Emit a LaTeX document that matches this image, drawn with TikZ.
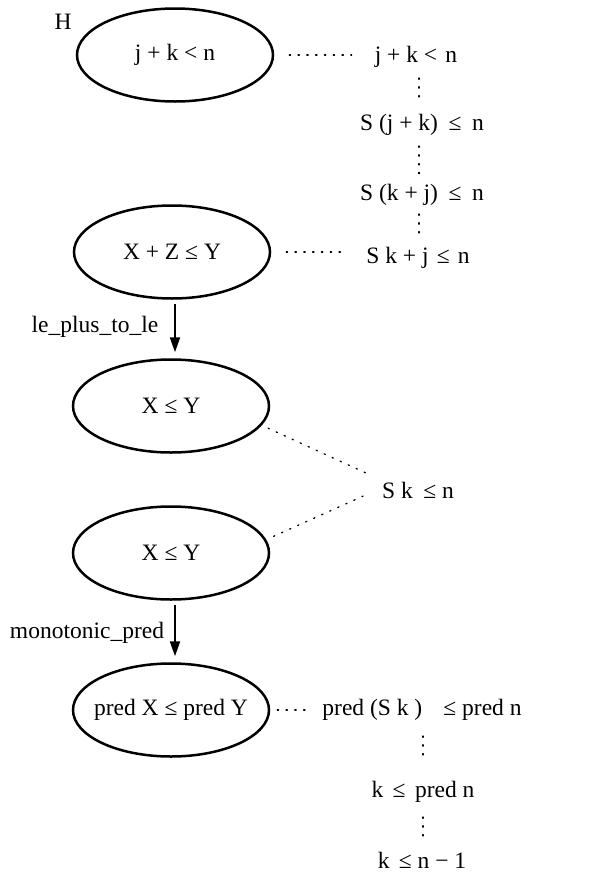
\documentclass[tikz,border=0pt]{standalone}
\usepackage{fontspec}
\setmainfont{Liberation Serif}
\usetikzlibrary{shapes.geometric,arrows.meta}
\begin{document}
\begin{tikzpicture}[x=1pt,y=-1pt,
  every node/.style={font=\fontsize{23.5}{27}\selectfont},
  goal/.style={ellipse,draw,line width=2.5pt,minimum width=196pt,minimum height=93pt,inner sep=0pt},
  txt/.style={inner sep=0pt},
  dotline/.style={line width=1.3pt,dash pattern=on 1.3pt off 7.5pt,line cap=round},
  rule/.style={line width=2pt,shorten <=4pt,shorten >=6pt,-{Triangle[length=15pt,width=10pt]}}]
\useasboundingbox (0,0) rectangle (606,873);
% goals
\node[goal] (e1) at (175,55) {j + k < n};
\node[goal] (e2) at (172,252) {X + Z ≤ Y};
\node[goal] (e3) at (171,406) {X ≤ Y};
\node[goal] (e4) at (171,553) {X ≤ Y};
\node[goal,inner xsep=-8pt] (e5) at (171,710) {pred X ≤ pred Y};
\node[txt] (h) at (63,22) {H};
% rules
\coordinate (ar) at (175,0);
\draw[rule] (ar |- e2.south) -- (ar |- e3.north);
\draw[rule] (ar |- e4.south) -- (ar |- e5.north);
\node[txt] (l1) at (95,327) {le\_plus\_to\_le};
\node[txt] (l2) at (87,633) {monotonic\_pred};
% right column
\node[txt] (t1) at (416,57) {j + k <\hspace{0.35em}n};
\node[txt] (t2) at (422,125) {S (j + k)\hspace{0.45em}≤\hspace{0.45em}n};
\node[txt] (t3) at (422,195) {S (k + j)\hspace{0.45em}≤\hspace{0.45em}n};
\node[txt] (t4) at (418,258) {S k + j\hspace{0.35em}≤\hspace{0.35em}n};
\node[txt] (t5) at (418,490) {S k\hspace{0.45em}≤ n};
\node[txt] (t6) at (422,710) {pred (S k )\hspace{0.9em}≤ pred n};
\node[txt] (t7) at (423,792) {k\hspace{0.4em}≤\hspace{0.4em}pred n};
\node[txt] (t8) at (422,860) {k\hspace{0.4em}≤ n − 1};
\coordinate (ca) at (419,0);
\coordinate (cb) at (423,0);
\coordinate (c5) at (390,484);
% dotted links
\draw[dotline,shorten <=15pt,shorten >=23pt] (e1.east) -- (e1.east -| t1.west);
\draw[dotline,shorten <=15pt,shorten >=21pt] (e2.east) -- (e2.east -| t4.west);
\draw[dotline,shorten <=21pt,shorten >=21pt] (ca |- t1) -- (ca |- t2);
\draw[dotline,shorten <=21pt,shorten >=21pt] (ca |- t2) -- (ca |- t3);
\draw[dotline,shorten <=19pt,shorten >=22pt] (ca |- t3) -- (ca |- t4);
\draw[dotline,shorten <=7pt,shorten >=26pt] (e3.-12) -- (c5);
\draw[dotline,shorten <=8pt,shorten >=24pt] (e4.8) -- (c5);
\draw[dotline,shorten <=7pt,shorten >=12pt] (e5.east) -- (e5.east -| t6.west);
\draw[dotline,shorten <=26pt,shorten >=32pt] (cb |- t6) -- (cb |- t7);
\draw[dotline,shorten <=25pt,shorten >=21pt] (cb |- t7) -- (cb |- t8);
\end{tikzpicture}
\end{document}
